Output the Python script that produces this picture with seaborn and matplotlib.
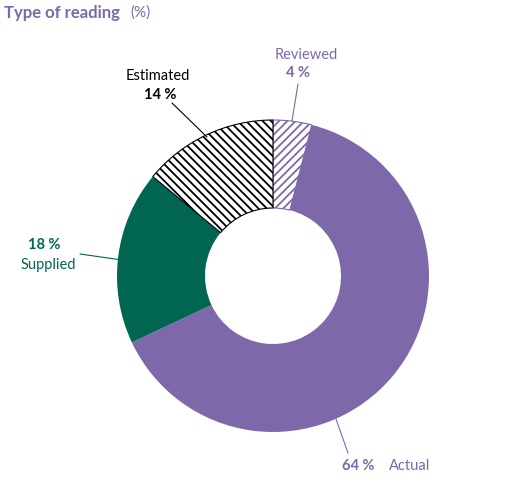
import matplotlib
matplotlib.use("Agg")
import matplotlib.pyplot as plt
import seaborn as sns

sns.set_style("white")
plt.rcParams['font.family'] = ['Lato', 'DejaVu Sans']
plt.rcParams['hatch.linewidth'] = 1.3

categories = ["Reviewed", "Actual", "Supplied", "Estimated"]
values = [4, 64, 18, 14]
colors = ["white", "#7D68A9", "#006652", "white"]
hatches = ["////", None, None, "\\\\\\\\"]
hatch_colors = ["#7D68A9", None, None, "black"]

W, H = 531, 502
fig = plt.figure(figsize=(W/100, H/100), dpi=100)
cx, cy, r = 273, 277, 156
ax = fig.add_axes([(cx-r)/W, (H-cy-r)/H, 2*r/W, 2*r/H])
wedges, _ = ax.pie(values, colors=colors, startangle=90, counterclock=False,
                   radius=1, wedgeprops=dict(width=1-68/156, linewidth=0))
for w, h, hc in zip(wedges, hatches, hatch_colors):
    if h:
        w.set_hatch(h)
        w.set_edgecolor(hc)
        w.set_linewidth(0.8)
ax.set_xlim(-1, 1); ax.set_ylim(-1, 1)
ax.set_aspect('equal')
ax.axis('off')

purple, green = "#7D68A9", "#006652"
def px(x, y):
    return ((x-cx)/r, (cy-y)/r)
# Reviewed
ax.text(*px(306, 55), categories[0], color=purple, ha='center', va='center', fontsize=10.5, clip_on=False)
ax.text(*px(298, 73), f"{values[0]} %", color=purple, ha='center', va='center', fontsize=10.5, fontweight='bold', clip_on=False)
ax.plot(*zip(px(298, 85), px(292, 122)), color=purple, lw=0.8, clip_on=False)
# Estimated
ax.text(*px(158, 76), categories[3], color='black', ha='center', va='center', fontsize=10.5, clip_on=False)
ax.text(*px(160, 95), f"{values[3]} %", color='black', ha='center', va='center', fontsize=10.5, fontweight='bold', clip_on=False)
ax.plot(*zip(px(172, 104), px(207, 138)), color='black', lw=0.8, clip_on=False)
# Supplied
ax.text(*px(44, 245), f"{values[2]} %", color=green, ha='center', va='center', fontsize=10.5, fontweight='bold', clip_on=False)
ax.text(*px(48, 265), categories[2], color=green, ha='center', va='center', fontsize=10.5, clip_on=False)
ax.plot(*zip(px(80, 255), px(122, 261)), color=green, lw=0.8, clip_on=False)
# Actual
ax.text(*px(358, 466), f"{values[1]} %", color=purple, ha='center', va='center', fontsize=10.5, fontweight='bold', clip_on=False)
ax.text(*px(410, 466), categories[1], color=purple, ha='center', va='center', fontsize=10.5, clip_on=False)
ax.plot(*zip(px(348, 454), px(336, 420)), color=purple, lw=0.8, clip_on=False)

fig.text(4/W, 1-13/H, "Type of reading", color=purple, fontsize=12, fontweight='bold', va='center')
fig.text(130/W, 1-13/H, "(%)", color=purple, fontsize=11, va='center')

fig.savefig("out.png", dpi=100)
